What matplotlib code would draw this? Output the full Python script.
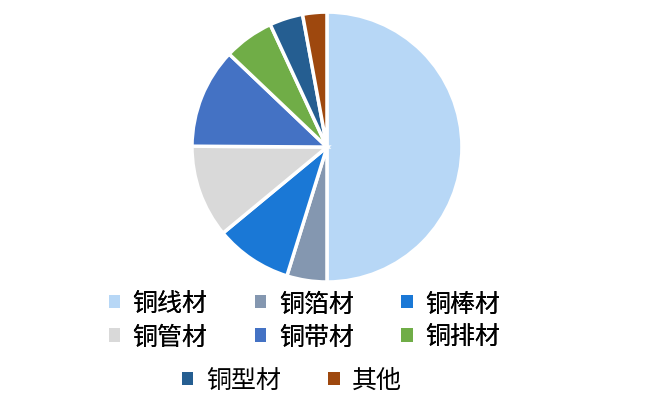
import matplotlib.pyplot as plt
from matplotlib.patches import Patch

plt.rcParams['font.family'] = ['Noto Sans CJK SC', 'DejaVu Sans']

labels = ['铜线材', '铜箔材', '铜棒材', '铜管材', '铜带材', '铜排材', '铜型材', '其他']
shares = [50.0, 4.8, 9.2, 11.1, 12.0, 6.0, 4.0, 2.9]
colors = ['#B7D7F6', '#8497B0', '#1A78D6', '#D9D9D9', '#4472C4', '#70AD47', '#255E91', '#9E480E']

fig = plt.figure(figsize=(6.49, 4.14), dpi=100)
ax = fig.add_axes([0.2958, 0.3164, 0.416, 0.652])
ax.pie(shares, colors=colors, startangle=90, counterclock=False,
       wedgeprops=dict(edgecolor='white', linewidth=2.5))
ax.set_xlim(-1, 1)
ax.set_ylim(-1, 1)
ax.set_aspect('equal')

handles = [Patch(facecolor=c, edgecolor='none') for c in colors]

# first two rows: row-major order in a 3-column legend
order = [0, 3, 1, 4, 2, 5]
leg1 = fig.legend([handles[i] for i in order], [labels[i] for i in order],
                  ncol=3, loc='upper center', bbox_to_anchor=(0.469, 0.35),
                  frameon=False, fontsize=18, handlelength=0.45, handleheight=0.45,
                  handletextpad=0.5, columnspacing=1.9, labelspacing=0.3)
fig.add_artist(leg1)
fig.legend(handles[6:], labels[6:], ncol=2, loc='upper center',
           bbox_to_anchor=(0.45, 0.165), frameon=False, fontsize=18,
           handlelength=0.45, handleheight=0.45, handletextpad=0.5,
           columnspacing=1.9)

fig.savefig('out.png', dpi=100)
